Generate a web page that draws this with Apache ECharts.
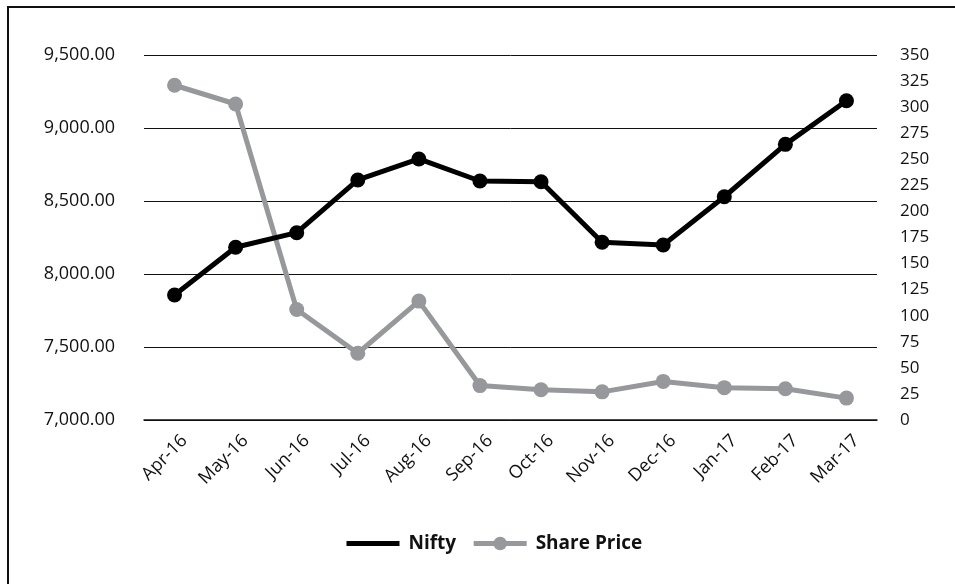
<!DOCTYPE html>
<html>
<head>
<meta charset="utf-8">
<script src="https://cdn.jsdelivr.net/npm/echarts@6/dist/echarts.min.js"></script>
<style type="text/css">
	html, body{
		margin: 0;
		padding: 0;
		background: #fff;
	}
	.frame{
		position: absolute;
		left: 7px;
		top: 6px;
		width: 948px;
		height: 578px;
		border-left: 2px solid #111;
		border-top: 2px solid #111;
		box-sizing: border-box;
	}
	#main{
		position: absolute;
		left: 0;
		top: 0;
		width: 955px;
		height: 584px;
	}
</style>
</head>
<body>
<div class="frame"></div>
<div id="main"></div>
<script type="text/javascript">
// 月份
var months = ['Apr-16','May-16','Jun-16','Jul-16','Aug-16','Sep-16','Oct-16','Nov-16','Dec-16','Jan-17','Feb-17','Mar-17'];
// 指数（左轴）
var nifty = [7856, 8183, 8283, 8644, 8788, 8637, 8632, 8217, 8199, 8529, 8888, 9187];
// 股价（右轴）
var sharePrice = [321, 303, 106, 64, 114, 33, 29, 27, 37, 31, 30, 21];

var font = '"Open Sans", "Noto Sans", sans-serif';

var myChart = echarts.init(document.getElementById('main'));

function fmt(v){
	return v.toLocaleString('en-US', {minimumFractionDigits: 2, maximumFractionDigits: 2});
}

var option = {
	animation: false,
	backgroundColor: 'transparent',
	grid: {
		left: 144,
		right: 78,
		top: 55,
		bottom: 164
	},
	legend: {
		bottom: 26,
		left: 339,
		itemWidth: 53,
		itemHeight: 17,
		itemGap: 15,
		lineStyle: {width: 5},
		textStyle: {
			fontFamily: font,
			fontSize: 19,
			fontWeight: 'bold',
			color: '#111',
			padding: [0, 0, 0, 4]
		},
		data: [
			{name: 'Nifty', itemStyle: {opacity: 0}},
			'Share Price'
		]
	},
	xAxis: {
		type: 'category',
		boundaryGap: true,
		data: months,
		axisLine: {lineStyle: {color: '#111', width: 1.5}},
		axisTick: {length: 5, lineStyle: {color: '#111', width: 1.5}},
		axisLabel: {
			rotate: 45,
			fontFamily: font,
			fontSize: 18,
			color: '#111',
			margin: 8,
			verticalAlign: 'top',
			padding: [5, 0, 0, 0]
		}
	},
	yAxis: [
		{
			type: 'value',
			min: 7000,
			max: 9500,
			interval: 500,
			axisLine: {show: false},
			axisTick: {show: false},
			splitLine: {lineStyle: {color: '#111', width: 1}},
			axisLabel: {
				fontFamily: font,
				fontSize: 18,
				color: '#111',
				margin: 29,
				formatter: fmt
			}
		},
		{
			type: 'value',
			min: 0,
			max: 350,
			interval: 25,
			axisLine: {show: false},
			axisTick: {show: false},
			splitLine: {show: false},
			axisLabel: {
				fontFamily: font,
				fontSize: 17,
				color: '#111',
				margin: 23
			}
		}
	],
	series: [
		{
			name: 'Nifty',
			type: 'line',
			yAxisIndex: 0,
			data: nifty,
			symbol: 'circle',
			symbolSize: 15,
			itemStyle: {color: '#000'},
			lineStyle: {color: '#000', width: 5},
			z: 3
		},
		{
			name: 'Share Price',
			type: 'line',
			yAxisIndex: 1,
			data: sharePrice,
			symbol: 'circle',
			symbolSize: 15,
			itemStyle: {color: '#97989b'},
			lineStyle: {color: '#97989b', width: 5},
			z: 2
		}
	]
};
myChart.setOption(option);
</script>
</body>
</html>
